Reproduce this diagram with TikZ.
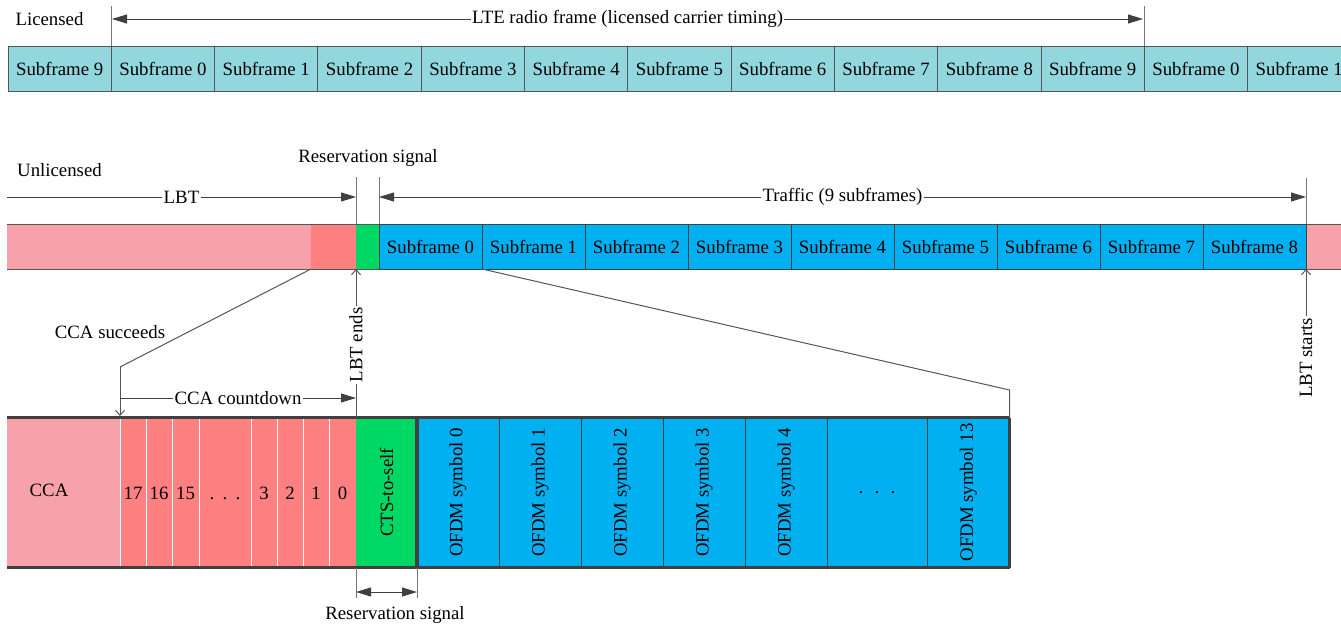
\documentclass[tikz,border=0pt]{standalone}
\usepackage{fontspec}
\setmainfont{Liberation Serif}
\usetikzlibrary{arrows.meta}
\definecolor{lteteal}{RGB}{146,214,222}
\definecolor{lightpink}{RGB}{247,162,170}
\definecolor{salmon}{RGB}{255,128,128}
\definecolor{ctsgreen}{RGB}{0,216,102}
\definecolor{skyblue}{RGB}{0,176,240}
\definecolor{frame}{RGB}{85,85,85}
\definecolor{darkframe}{RGB}{64,64,64}
\definecolor{tickgray}{RGB}{120,120,120}
\newcommand\spdots[1]{.\hspace{#1}.\hspace{#1}.}
\tikzset{
  cell/.style={inner sep=0pt, outer sep=0pt, anchor=north west},
  ltebox/.style={cell, draw=frame, line width=1pt, fill=lteteal, minimum width=103.3pt, minimum height=45pt},
  sfbox/.style={cell, draw=darkframe, line width=1pt, fill=skyblue, minimum width=103pt, minimum height=45pt},
  txt/.style={inner sep=1pt, text=black},
  onlabel/.style={fill=white, inner sep=1.5pt, text=black},
  thinline/.style={draw=tickgray, line width=1pt},
  conn/.style={draw=frame, line width=1pt},
  tip/.tip={Triangle[length=15pt,width=9pt]},
  dim/.style={draw=darkframe, line width=1pt, -tip},
  dimboth/.style={draw=darkframe, line width=1pt, tip-tip},
  pointer/.style={draw=frame, line width=1pt, -{Straight Barb[length=5pt,width=9pt]}},
  heavy/.style={draw=darkframe, line width=3.5pt},
}
\begin{document}
\begin{tikzpicture}[x=1pt, y=-1pt, font=\fontsize{18.8}{22}\selectfont]
\useasboundingbox (0,0) rectangle (1341,629);
\clip (0,0) rectangle (1341,629);

% ---------------- licensed carrier ----------------
\node[txt] (lic) at (49.5,19) {Licensed};
\foreach \n [count=\i from 0] in {9,0,1,2,3,4,5,6,7,8,9,0,1}
  \node[ltebox] (t\i) at ({8+103.3*\i},46) {Subframe \n};
\draw[thinline] (t1.north west) -- ++(0,-40);
\draw[thinline] (t11.north west) -- ++(0,-40);
\draw[dimboth] (112,19) coordinate (lteL) -- (1143,19) coordinate (lteR)
  node[midway, onlabel] (ltelab) {LTE radio frame (licensed carrier timing)};

% ---------------- unlicensed carrier ----------------
\node[txt] (unlic) at (59.5,170) {Unlicensed};
\node[cell, fill=lightpink, minimum width=304pt, minimum height=45pt] (lbt1) at (7,224) {};
\node[cell, fill=salmon, minimum width=45pt, minimum height=45pt] (lbt2) at (311,224) {};
\node[cell, fill=ctsgreen, minimum width=23pt, minimum height=45pt] (rsv) at (356,224) {};
\node[cell, fill=lightpink, minimum width=40pt, minimum height=45pt] (tail) at (1306,224) {};
\draw[conn] (lbt1.north west) -- (tail.north east);
\draw[conn] (lbt1.south west) -- (tail.south east);
\foreach \n in {0,...,8}
  \node[sfbox] (u\n) at ({379+103*\n},224) {Subframe \n};

\node[txt] (rsvtop) at (368,158) {Reservation signal};
\draw[thinline] (rsv.north west) -- ++(0,-47);
\draw[thinline] (rsv.north east) -- ++(0,-47);
\draw[thinline] (u8.north east) -- ++(0,-46);
\draw[dim] (7,197) coordinate (lbtL) -- (356,197) coordinate (lbtR)
  node[midway, onlabel] (lbtlab) {LBT};
\draw[dimboth] (379,197) coordinate (trL) -- (1306,197) coordinate (trR)
  node[midway, onlabel] (trlab) {Traffic (9 subframes)};

% ---------------- expanded view ----------------
\node[cell, fill=lightpink, minimum width=113pt, minimum height=150pt] (ccaB) at (7,417.5) {};
\node[txt] (ccalab) at (49,490) {CCA};
\foreach \xa/\xb [count=\i] in {120/146, 146/172, 172/199, 199/251, 251/277, 277/303, 303/329, 329/356}
  \node[cell, fill=salmon, draw=white, line width=1pt, minimum width={(\xb-\xa)*1pt}, minimum height=150pt] (c\i) at (\xa,417.5) {};
\foreach \xa/\xb/\lab [count=\i] in {120/146/17, 146/172/16, 172/199/15, 251/277/3, 277/303/2, 303/329/1, 329/356/0}
  \node[txt] (cl\i) at ({(\xa+\xb)/2},493) {\lab};
\node[txt, anchor=base] (cldots) at (225,499) {\spdots{8.3pt}};

\node[cell, fill=ctsgreen, minimum width=61pt, minimum height=150pt] (cts) at (356,417.5) {};
\node[txt, rotate=90] (ctslab) at (cts.center) {CTS-to-self};

\foreach \xa/\xb [count=\i from 0] in {417/499, 499/581, 581/663, 663/745, 745/827, 827/927, 927/1009.5}
  \node[cell, fill=skyblue, draw=darkframe, line width=1pt, minimum width={(\xb-\xa)*1pt}, minimum height=150pt] (o\i) at (\xa,417.5) {};
\foreach \k/\lab in {0/0, 1/1, 2/2, 3/3, 4/4, 6/13}
  \node[txt, rotate=90] (ol\k) at (o\k.center) {OFDM symbol \lab};
\node[txt] (oldots) at (o5.center) {\spdots{11.3pt}};

% heavy outline of the expanded subframe
\draw[heavy] (ccaB.north west) -- (o6.north east);
\draw[heavy] (ccaB.south west) -- (o6.south east);
\draw[heavy] (o6.north east) -- (o6.south east);
\draw[heavy] (cts.north east) -- (cts.south east);

% zoom connectors
\coordinate (kneeA) at (120,367);
\draw[conn] (lbt2.south west) -- (kneeA);
\draw[pointer, shorten >=1.5pt] (kneeA) -- (c1.north west);
\node[txt] (ccasucc) at (110,332) {CCA succeeds};
\coordinate (kneeB) at (1009.5,390);
\draw[conn] (u0.south east) -- (kneeB) -- (o6.north east);

\draw[dim] (120,398) coordinate (cdL) -- (356,398) coordinate (cdR)
  node[midway, onlabel] (cdlab) {CCA countdown};

% LBT ends / LBT starts markers
\node[onlabel, rotate=90] (lbtend) at (356,345) {LBT ends};
\draw[pointer] (lbtend.east) -- (rsv.south west);
\draw[conn] (lbtend.west) -- (cts.north west);
\node[onlabel, rotate=90] (lbtstart) at (1306,358) {LBT starts};
\draw[pointer] (lbtstart.east) -- (u8.south east);

% reservation signal span below
\draw[thinline] (cts.south west) -- ++(0,30);
\draw[thinline] (cts.south east) -- ++(0,30);
\draw[dimboth] (356,592) coordinate (rbL) -- (417,592) coordinate (rbR);
\node[txt] (rsvbot) at (395,615) {Reservation signal};
\end{tikzpicture}
\end{document}
